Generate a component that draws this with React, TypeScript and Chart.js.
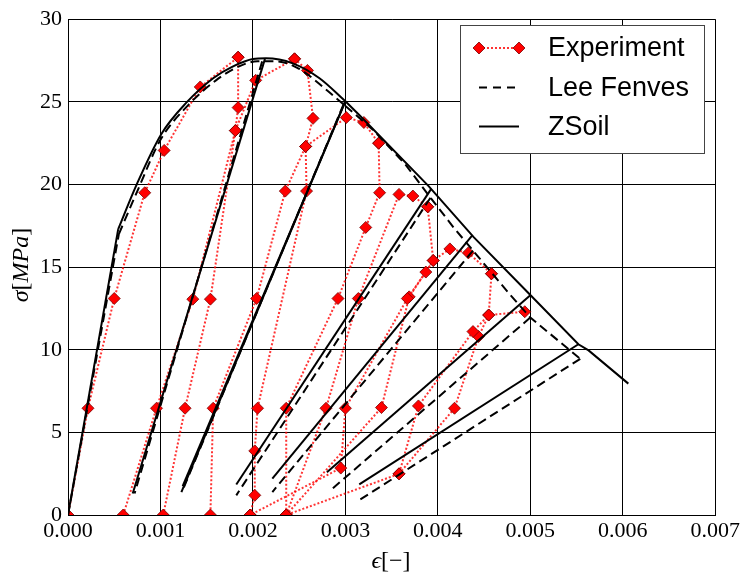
import React, { useEffect, useRef } from "react";
import { Chart, registerables } from "chart.js";

Chart.register(...registerables);

type Pt = [number, number];

// Experimental cyclic test (strain [-], stress [MPa])
const expVirgin: Pt[] = [[0, 0], [0.000216, 6.46], [0.0005, 13.1], [0.00083, 19.5], [0.00104, 22.06], [0.00143, 25.9], [0.00184, 27.7]];
const expUnload1: Pt[] = [[0.00184, 27.7], [0.00184, 24.65], [0.00181, 23.26], [0.00135, 13.06], [0.000957, 6.46], [0.000597, 0]];
const expReload1: Pt[] = [[0.00103, 0], [0.001266, 6.46], [0.00154, 13.06], [0.00181, 23.26], [0.00203, 26.3], [0.00245, 27.6]];
const expUnload2: Pt[] = [[0.00245, 27.6], [0.00259, 26.9], [0.00265, 24.0], [0.00257, 22.3], [0.00235, 19.6], [0.00204, 13.1], [0.00157, 6.46], [0.00154, 0]];
const expReload2: Pt[] = [[0.00197, 0], [0.00202, 1.19], [0.00202, 3.88], [0.00205, 6.46], [0.00258, 19.6], [0.00257, 22.3], [0.00301, 24.05], [0.0032, 23.75], [0.00336, 22.5]];
const expUnload3: Pt[] = [[0.00336, 22.5], [0.00337, 19.5], [0.00322, 17.4], [0.00292, 13.1], [0.00236, 6.46], [0.00236, 0]];
const expReload3: Pt[] = [[0.00236, 0], [0.00279, 6.46], [0.00314, 13.1], [0.00358, 19.4], [0.00373, 19.3], [0.00389, 18.65]];
const expUnload4: Pt[] = [[0.00389, 18.65], [0.00395, 15.4], [0.00387, 14.7], [0.00367, 13.1], [0.003, 6.46], [0.00295, 2.84], [0.00197, 0]];
const expReload4: Pt[] = [[0.00236, 0], [0.00339, 6.5], [0.00369, 13.2], [0.00395, 15.4], [0.00413, 16.1], [0.00433, 15.86], [0.00458, 14.6]];
const expUnload5: Pt[] = [[0.00458, 14.6], [0.00455, 12.1], [0.00438, 11.1], [0.00379, 6.6], [0.00358, 2.49], [0.00236, 0]];
const expReload5: Pt[] = [[0.00358, 2.49], [0.00418, 6.46], [0.00444, 10.8], [0.00455, 12.1], [0.00494, 12.3]];

// ZSoil model: elastic branch, hardening curve, softening branch, unloading lines
const zsoilElastic: Pt[] = [[0, 0], [0.000543, 17.3]];
const zsoilHardening: Pt[] = [[0.000543, 17.3], [0.000741, 19.98], [0.00101, 23.06], [0.00128, 24.95], [0.00157, 26.43], [0.00178, 27.13], [0.002, 27.59], [0.00214, 27.63], [0.00243, 27.33], [0.00272, 26.43], [0.003, 25.04]];
const zsoilSoftening: Pt[] = [[0.003, 25.04], [0.00315, 24.2], [0.0039, 19.9], [0.00439, 16.8], [0.00495, 13.6], [0.00552, 10.33], [0.00563, 9.96], [0.00606, 7.95]];
const zsoilUnload1: Pt[] = [[0.00213, 27.6], [0.0007, 1.3]];
const zsoilUnload2a: Pt[] = [[0.003, 25.04], [0.001226, 1.39]];
const zsoilUnload2b: Pt[] = [[0.003, 25.04], [0.00124, 1.75]];
const zsoilUnload3: Pt[] = [[0.00393, 19.75], [0.00182, 1.85]];
const zsoilUnload4: Pt[] = [[0.00437, 16.9], [0.00221, 2.2]];
const zsoilUnload5: Pt[] = [[0.005, 13.3], [0.0028, 2.58]];
const zsoilUnload6: Pt[] = [[0.00552, 10.33], [0.00315, 1.85]];

// Lee Fenves model
const leeElastic: Pt[] = [[0, 0], [0.00055, 17.0]];
const leeHardening: Pt[] = [[0.00055, 17.0], [0.00075, 19.6], [0.001, 22.7], [0.0013, 24.8], [0.0016, 26.3], [0.00185, 27.15], [0.00205, 27.45], [0.00225, 27.45], [0.0025, 27.0], [0.0028, 25.7], [0.003, 24.75]];
const leeSoftening: Pt[] = [[0.003, 24.75], [0.0033, 23.3], [0.00365, 21.2], [0.0039, 19.35], [0.00417, 17.4], [0.00438, 16.0], [0.00477, 13.4], [0.005, 11.95], [0.00554, 9.45]];
const leeUnload1: Pt[] = [[0.0021, 27.45], [0.00072, 1.3]];
const leeUnload2: Pt[] = [[0.00298, 24.85], [0.00124, 1.5]];
const leeUnload3: Pt[] = [[0.00392, 19.2], [0.00182, 1.19]];
const leeUnload4: Pt[] = [[0.00438, 16.0], [0.00221, 1.39]];
const leeUnload5: Pt[] = [[0.005, 11.95], [0.00283, 1.45]];
const leeUnload6: Pt[] = [[0.00554, 9.45], [0.00315, 0.9]];

const xTicks = [0, 0.001, 0.002, 0.003, 0.004, 0.005, 0.006, 0.007];
const yTicks = [0, 5, 10, 15, 20, 25, 30];

const expPaths = [expVirgin, expUnload1, expReload1, expUnload2, expReload2, expUnload3, expReload3, expUnload4, expReload4, expUnload5, expReload5];
const zsoilLines = [zsoilElastic, zsoilSoftening, zsoilUnload1, zsoilUnload2a, zsoilUnload2b, zsoilUnload3, zsoilUnload4, zsoilUnload5, zsoilUnload6];
const leeLines = [leeElastic, leeSoftening, leeUnload1, leeUnload2, leeUnload3, leeUnload4, leeUnload5, leeUnload6];

const SERIF = "'Liberation Serif', 'DejaVu Serif', serif";
const SANS = "'Liberation Sans', Arial, sans-serif";
const RED = "#ff0000";
const DOT_RED = "rgba(255, 0, 0, 0.8)";

const toXY = (p: Pt[]) => p.map(([x, y]) => ({ x, y }));

type Part = { t: string; it: boolean };

function drawParts(ctx: CanvasRenderingContext2D, parts: Part[], cx: number, cy: number, size: number) {
  const fontFor = (it: boolean) => `${it ? "italic " : ""}${size}px ${SERIF}`;
  let total = 0;
  for (const p of parts) {
    ctx.font = fontFor(p.it);
    total += ctx.measureText(p.t).width;
  }
  let x = cx - total / 2;
  ctx.textBaseline = "middle";
  ctx.textAlign = "left";
  for (const p of parts) {
    ctx.font = fontFor(p.it);
    ctx.fillText(p.t, x, cy);
    x += ctx.measureText(p.t).width;
  }
}

function diamond(ctx: CanvasRenderingContext2D, x: number, y: number, r: number) {
  ctx.beginPath();
  ctx.moveTo(x, y - r);
  ctx.lineTo(x + r, y);
  ctx.lineTo(x, y + r);
  ctx.lineTo(x - r, y);
  ctx.closePath();
  ctx.fillStyle = RED;
  ctx.fill();
  ctx.lineWidth = 0.8;
  ctx.strokeStyle = "#700";
  ctx.stroke();
}

const decorations = {
  id: "decorations",
  afterDraw(chart: Chart) {
    const ctx = chart.ctx;
    ctx.save();
    ctx.fillStyle = "#000";
    // axis titles
    drawParts(ctx, [{ t: "\u03f5", it: true }, { t: "[\u2212]", it: false }], 391, 562, 24);
    ctx.save();
    ctx.translate(22, 265);
    ctx.rotate(-Math.PI / 2);
    drawParts(ctx, [{ t: "\u03c3", it: true }, { t: "[", it: false }, { t: "MPa", it: true }, { t: "]", it: false }], 0, 0, 24);
    ctx.restore();

    // legend
    const bx = 460.5, by = 25.5, bw = 244, bh = 128;
    ctx.fillStyle = "#fff";
    ctx.fillRect(bx, by, bw, bh);
    ctx.strokeStyle = "#444";
    ctx.lineWidth = 1;
    ctx.strokeRect(bx, by, bw, bh);
    const x0 = 479, x1 = 519, tx = 548;
    const rows = [48, 87.5, 126.5];
    ctx.lineWidth = 2;
    ctx.strokeStyle = DOT_RED;
    ctx.setLineDash([2, 2]);
    ctx.beginPath();
    ctx.moveTo(x0, rows[0]);
    ctx.lineTo(x1, rows[0]);
    ctx.stroke();
    ctx.setLineDash([]);
    diamond(ctx, x0, rows[0], 6);
    diamond(ctx, x1, rows[0], 6);

    ctx.lineWidth = 2;
    ctx.strokeStyle = "#000";
    ctx.setLineDash([8, 6]);
    ctx.beginPath();
    ctx.moveTo(x0, rows[1]);
    ctx.lineTo(x1, rows[1]);
    ctx.stroke();
    ctx.setLineDash([]);
    ctx.beginPath();
    ctx.moveTo(x0, rows[2]);
    ctx.lineTo(x1, rows[2]);
    ctx.stroke();

    ctx.fillStyle = "#000";
    ctx.font = `27px ${SANS}`;
    ctx.textAlign = "left";
    ctx.textBaseline = "middle";
    ctx.fillText("Experiment", tx, rows[0] + 1);
    ctx.fillText("Lee Fenves", tx, rows[1] + 1);
    ctx.fillText("ZSoil", tx, rows[2] + 1);
    ctx.restore();
  },
};

export default function App() {
  const ref = useRef<HTMLCanvasElement | null>(null);

  useEffect(() => {
    document.body.style.margin = "0";
    const canvas = ref.current;
    if (!canvas) return;

    const solid = (p: Pt[], smooth: boolean) => ({
      data: toXY(p),
      borderColor: "#000",
      borderWidth: 2,
      pointRadius: 0,
      fill: false,
      cubicInterpolationMode: smooth ? "monotone" : "default",
    });
    const dashed = (p: Pt[], smooth: boolean) => ({ ...solid(p, smooth), borderDash: [9, 5] });

    const datasets: any[] = [];
    datasets.push(solid(zsoilHardening, true));
    zsoilLines.forEach((p) => datasets.push(solid(p, false)));
    datasets.push(dashed(leeHardening, true));
    leeLines.forEach((p) => datasets.push(dashed(p, false)));
    expPaths.forEach((p) =>
      datasets.push({
        data: toXY(p),
        borderColor: DOT_RED,
        borderWidth: 2,
        borderDash: [2, 2],
        pointStyle: "rectRot",
        pointRadius: 6,
        pointBackgroundColor: RED,
        pointBorderColor: "#700",
        pointBorderWidth: 0.8,
        fill: false,
        clip: 0,
      })
    );

    const chart = new Chart(canvas, {
      type: "line",
      data: { datasets },
      options: {
        animation: false,
        responsive: false,
        maintainAspectRatio: false,
        parsing: false,
        layout: { padding: { top: 12, right: 26, left: 0, bottom: 0 } },
        plugins: { legend: { display: false }, tooltip: { enabled: false } },
        scales: {
          x: {
            type: "linear",
            min: 0,
            max: 0.007,
            afterBuildTicks: (s: any) => {
              s.ticks = xTicks.map((v) => ({ value: v }));
            },
            afterFit: (s: any) => {
              s.height = 62;
            },
            ticks: {
              callback: (v: any) => Number(v).toFixed(3),
              color: "#000",
              font: { family: SERIF, size: 22 },
              padding: 3,
              maxRotation: 0,
            },
            grid: { color: "#000", lineWidth: 1, drawTicks: false },
            border: { color: "#000", width: 1 },
          },
          y: {
            type: "linear",
            min: 0,
            max: 30,
            afterBuildTicks: (s: any) => {
              s.ticks = yTicks.map((v) => ({ value: v }));
            },
            afterFit: (s: any) => {
              s.width = 68;
            },
            ticks: {
              color: "#000",
              font: { family: SERIF, size: 22 },
              padding: 6,
            },
            grid: { color: "#000", lineWidth: 1, drawTicks: false },
            border: { color: "#000", width: 1 },
          },
        },
      },
      plugins: [decorations],
    });
    return () => chart.destroy();
  }, []);

  return (
    <div style={{ position: "absolute", left: 0, top: 0, width: 743, height: 577, background: "#fff" }}>
      <canvas ref={ref} width={743} height={577} style={{ display: "block" }} />
    </div>
  );
}
